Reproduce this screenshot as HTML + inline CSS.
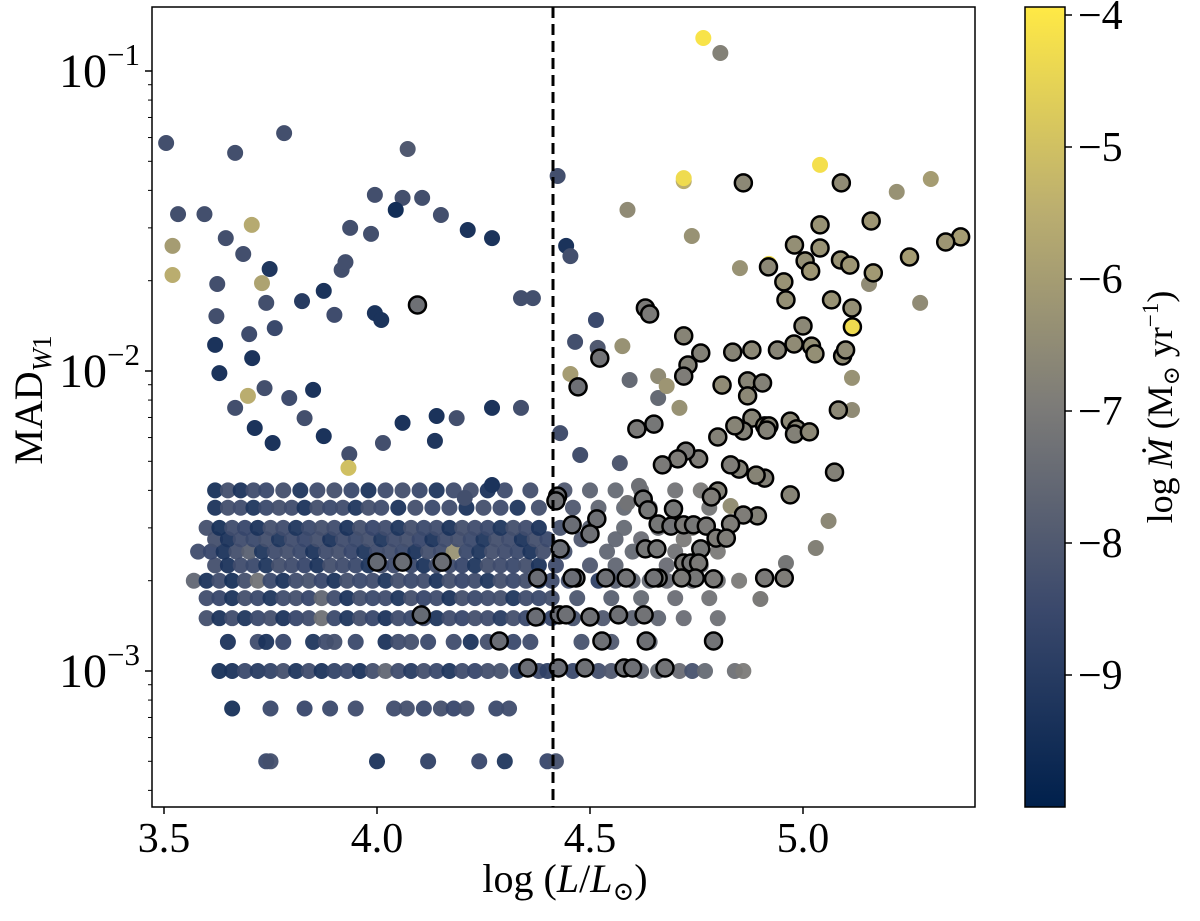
<!DOCTYPE html>
<html><head><meta charset="utf-8">
<style>
html,body{margin:0;padding:0;background:#fff;}
svg{display:block;}
text{font-family:"Liberation Serif","DejaVu Serif",serif;fill:#000;}
</style></head>
<body>
<svg id="chart" width="1200" height="921" viewBox="0 0 1200 921" xmlns="http://www.w3.org/2000/svg">
<g id="points"></g>
<g id="rings"></g>
<line x1="553" y1="7" x2="553" y2="807" stroke="#000" stroke-width="3" stroke-dasharray="11,6"/>
<rect x="152" y="7" width="823" height="800" fill="none" stroke="#000" stroke-width="1.5"/>
<g id="xaxis"></g>
<g id="yaxis"></g>
<text x="565" y="892" font-size="40" text-anchor="middle">log (<tspan font-style="italic">L</tspan>/<tspan font-style="italic">L</tspan><tspan font-size="26" dy="8">⊙</tspan><tspan dy="-8">)</tspan></text>
<text transform="translate(42,400) rotate(-90)" font-size="40" text-anchor="middle">MAD<tspan font-size="27" font-style="italic" dy="9">W</tspan><tspan font-size="27" dy="0">1</tspan></text>
<defs><linearGradient id="cv" x1="0" y1="1" x2="0" y2="0">
<stop offset="0" stop-color="#00204c"/><stop offset="0.25" stop-color="#3b496c"/><stop offset="0.5" stop-color="#7c7b78"/><stop offset="0.75" stop-color="#bcaf6f"/><stop offset="1" stop-color="#ffe945"/>
</linearGradient></defs>
<rect x="1025" y="7" width="40" height="800" fill="url(#cv)" stroke="#000" stroke-width="1.5"/>
<g id="cbar"></g>
<text transform="translate(1172,407) rotate(-90)" font-size="36" text-anchor="middle">log <tspan font-style="italic">Ṁ</tspan> (M<tspan font-size="23" dy="7">⊙</tspan><tspan dy="-7"> yr</tspan><tspan font-size="23" dy="-14">−1</tspan><tspan dy="14">)</tspan></text>
</svg>
<script>
const xTicks=[3.5,4.0,4.5,5.0];
const xTickLabels=["3.5","4.0","4.5","5.0"];
const yTickExps=[-1,-2,-3];
const cbTicks=[-4,-5,-6,-7,-8,-9];
const cbTickLabels=["−4","−5","−6","−7","−8","−9"];
const rowLevels=[0.0005,0.00075,0.001,0.00125,0.0015,0.00175,0.002,0.00225,0.0025,0.00275,0.003,0.0035,0.004];
const rowLum=[
[3.74,3.75,4.00,4.12,4.24,4.30,4.40,4.42],
[3.66,3.75,3.83,3.89,3.95,4.04,4.07,4.11,4.15,4.18,4.21,4.28,4.31],
[3.63,3.66,3.69,3.72,3.75,3.78,3.81,3.84,3.87,3.90,3.93,3.96,3.99,4.02,4.05,4.08,4.11,4.14,4.17,4.20,4.23,4.26,4.29,4.33,4.38,4.40,4.46,4.52,4.55,4.62,4.66,4.71,4.74,4.77,4.84,4.86],
[3.65,3.72,3.74,3.78,3.85,3.88,3.90,3.95,4.02,4.05,4.08,4.12,4.18,4.22,4.26,4.32,4.36,4.48,4.55,4.64],
[3.60,3.63,3.66,3.69,3.72,3.75,3.78,3.81,3.84,3.87,3.90,3.93,3.96,3.99,4.02,4.05,4.08,4.11,4.14,4.17,4.20,4.23,4.26,4.29,4.32,4.35,4.38,4.41,4.46,4.53,4.60,4.66,4.72,4.80],
[3.60,3.63,3.66,3.69,3.72,3.75,3.78,3.81,3.84,3.87,3.90,3.93,3.96,3.99,4.02,4.05,4.08,4.11,4.14,4.17,4.20,4.23,4.26,4.29,4.32,4.35,4.38,4.41,4.47,4.55,4.62,4.70,4.78],
[3.57,3.60,3.63,3.66,3.69,3.72,3.75,3.78,3.81,3.84,3.87,3.90,3.93,3.96,3.99,4.02,4.05,4.08,4.11,4.14,4.17,4.20,4.23,4.26,4.29,4.32,4.35,4.38,4.41,4.45,4.52,4.56,4.60,4.64,4.68,4.74,4.80,4.85],
[3.62,3.65,3.68,3.71,3.74,3.77,3.80,3.83,3.86,3.89,3.92,3.95,3.98,4.01,4.04,4.08,4.11,4.14,4.17,4.20,4.23,4.26,4.29,4.32,4.35,4.38,4.42,4.50,4.56,4.68,4.76],
[3.58,3.61,3.64,3.67,3.70,3.73,3.76,3.79,3.82,3.85,3.88,3.91,3.94,3.97,4.00,4.03,4.06,4.09,4.12,4.15,4.18,4.21,4.24,4.27,4.30,4.33,4.36,4.39,4.44,4.54,4.60,4.70,4.80],
[3.62,3.65,3.68,3.71,3.74,3.77,3.80,3.83,3.86,3.89,3.92,3.95,3.98,4.01,4.04,4.07,4.10,4.13,4.16,4.19,4.22,4.25,4.28,4.31,4.34,4.37,4.40,4.48,4.56,4.62,4.72],
[3.60,3.63,3.66,3.69,3.72,3.75,3.78,3.81,3.84,3.87,3.90,3.93,3.96,3.99,4.02,4.05,4.08,4.11,4.14,4.17,4.20,4.23,4.26,4.29,4.32,4.35,4.38,4.43,4.50,4.58,4.66,4.74],
[3.62,3.65,3.68,3.71,3.74,3.77,3.80,3.83,3.86,3.89,3.92,3.95,3.98,4.01,4.05,4.09,4.13,4.17,4.21,4.25,4.29,4.33,4.38,4.46,4.52,4.58,4.64,4.70,4.78],
[3.62,3.65,3.68,3.71,3.74,3.78,3.82,3.86,3.90,3.94,3.98,4.02,4.06,4.10,4.14,4.18,4.22,4.26,4.30,4.36,4.44,4.50,4.56,4.62,4.70,4.76]
];
const rowMdot=[
[-8.5,-8.3,-9.3,-8.8,-8.6,-9.2,-8.6,-8.3],
[-9.4,-8.5,-8.6,-8.5,-8.4,-8.4,-8.3,-8.5,-8.3,-8.6,-8.3,-8.5,-8.4],
[-9.4,-9.3,-8.5,-9.0,-8.7,-8.3,-9.2,-8.4,-9.3,-8.7,-8.5,-9.3,-8.3,-7.6,-8.4,-9.0,-8.3,-8.5,-9.2,-8.4,-8.6,-8.3,-8.2,-9.0,-8.4,-8.8,-8.5,-8.3,-8.0,-7.6,-7.5,-7.4,-8.2,-7.5,-7.3,-7.0],
[-9.3,-8.4,-9.3,-8.6,-9.2,-8.4,-8.3,-8.5,-9.3,-8.4,-8.3,-8.5,-8.4,-9.3,-8.3,-8.5,-8.4,-8.2,-8.0,-7.6],
[-8.3,-9.3,-8.4,-9.2,-8.5,-8.3,-9.3,-8.6,-8.4,-7.3,-8.5,-9.2,-8.3,-8.6,-9.3,-8.4,-8.5,-8.3,-9.2,-8.4,-8.6,-8.3,-8.4,-9.0,-8.3,-8.5,-8.4,-8.6,-8.2,-8.0,-7.7,-7.6,-7.4,-7.3],
[-8.4,-8.6,-9.3,-8.3,-8.5,-9.2,-8.4,-8.3,-8.6,-7.6,-8.4,-9.3,-8.3,-8.5,-8.4,-9.2,-8.3,-8.6,-8.4,-9.3,-8.3,-8.5,-8.4,-8.3,-9.2,-8.4,-8.5,-8.3,-8.1,-7.8,-7.5,-7.4,-7.2],
[-7.6,-9.3,-8.4,-9.4,-8.3,-7.2,-8.5,-9.3,-8.4,-8.2,-8.6,-9.3,-8.3,-8.5,-8.4,-9.2,-8.3,-8.5,-8.4,-9.3,-8.3,-8.6,-8.4,-9.2,-8.3,-8.5,-8.3,-9.3,-8.4,-8.2,-8.8,-7.8,-7.6,-7.5,-7.4,-7.3,-7.2,-7.0],
[-8.3,-9.3,-8.4,-8.5,-9.2,-8.3,-8.4,-8.6,-9.3,-8.3,-8.4,-8.5,-9.2,-8.3,-8.4,-8.5,-9.3,-8.3,-8.4,-8.6,-9.2,-8.3,-8.4,-8.5,-8.3,-9.3,-8.4,-8.0,-7.6,-7.4,-7.2],
[-8.4,-8.6,-9.3,-8.3,-7.8,-9.2,-8.4,-8.3,-8.5,-9.3,-8.4,-8.3,-8.6,-9.2,-8.4,-8.3,-8.5,-9.3,-8.3,-8.4,-6.3,-8.5,-9.2,-8.3,-8.4,-8.5,-9.3,-8.3,-8.2,-7.6,-7.5,-7.2,-7.0],
[-8.3,-9.3,-8.4,-8.5,-8.3,-9.2,-8.4,-8.6,-8.3,-9.3,-8.4,-8.5,-8.3,-9.2,-8.4,-8.3,-8.6,-9.3,-8.4,-8.3,-8.5,-9.2,-8.3,-8.4,-9.3,-8.3,-8.5,-8.0,-7.6,-7.4,-7.0],
[-8.3,-9.4,-8.4,-8.6,-9.3,-8.3,-8.4,-9.2,-8.5,-8.3,-8.4,-9.3,-8.3,-8.6,-8.4,-9.2,-8.3,-8.5,-8.4,-9.3,-8.3,-8.4,-8.5,-9.2,-8.3,-8.4,-9.3,-8.2,-7.8,-7.5,-7.3,-7.0],
[-9.3,-8.3,-8.4,-9.2,-8.5,-8.3,-8.4,-9.3,-8.3,-8.5,-8.4,-9.2,-8.3,-8.4,-9.3,-8.3,-8.5,-8.4,-9.3,-8.3,-8.4,-9.2,-8.3,-8.0,-7.6,-7.5,-7.4,-7.3,-7.1],
[-9.4,-8.3,-9.3,-8.4,-8.5,-8.3,-9.2,-8.4,-8.3,-8.5,-9.3,-8.4,-8.3,-8.5,-9.2,-8.4,-8.3,-9.3,-8.4,-8.3,-8.0,-7.7,-7.5,-7.3,-7.2,-7.0]
];
const scatLum=[3.505,3.52,3.52,3.533,3.595,3.667,3.782,3.706,3.645,3.686,3.73,3.748,3.625,3.623,3.62,3.63,3.70,3.707,3.74,3.76,3.824,3.875,3.90,3.917,3.926,3.937,3.986,3.995,4.072,4.06,4.106,3.995,4.01,4.044,4.15,4.213,4.27,4.338,4.366,4.424,4.444,4.454,4.588,4.72,4.739,4.72,4.766,4.806,5.04,4.92,4.852,5.22,5.30,5.275,5.115,5.115,5.155,4.518,4.576,4.465,4.514,4.593,4.71,4.66,4.588,4.477,4.338,4.27,4.187,4.14,4.136,4.06,4.014,3.935,3.875,3.83,3.755,3.713,3.667,3.736,3.794,3.85,3.933,3.697,4.454,4.66,4.43,4.57,4.27,4.206,4.615,5.03,4.90,4.96,5.06,4.83,4.68];
const scatMad=[-1.24,-1.583,-1.68,-1.477,-1.477,-1.273,-1.207,-1.513,-1.557,-1.61,-1.707,-1.66,-1.71,-1.817,-1.913,-2.007,-1.877,-1.957,-1.773,-1.857,-1.767,-1.733,-1.813,-1.663,-1.637,-1.523,-1.543,-1.413,-1.26,-1.423,-1.423,-1.807,-1.83,-1.463,-1.48,-1.53,-1.557,-1.757,-1.757,-1.35,-1.583,-1.617,-1.463,-1.367,-1.55,-1.357,-0.89,-0.94,-1.313,-1.643,-1.657,-1.403,-1.36,-1.773,-2.023,-2.13,-1.71,-1.923,-1.917,-1.903,-1.83,-2.03,-2.123,-2.09,-2.44,-2.28,-2.123,-2.123,-2.157,-2.15,-2.233,-2.173,-2.24,-2.277,-2.217,-2.157,-2.24,-2.19,-2.123,-2.057,-2.09,-2.063,-2.323,-2.083,-2.01,-2.017,-2.207,-2.307,-2.38,-2.423,-2.383,-2.59,-2.76,-2.64,-2.50,-2.45,-2.05];
const scatMdot=[-8.3,-6.0,-5.5,-8.3,-8.3,-8.3,-8.3,-5.6,-8.3,-8.3,-5.8,-9.2,-8.3,-8.3,-9.3,-9.3,-8.4,-9.3,-8.3,-8.5,-9.0,-9.3,-8.4,-8.3,-8.3,-8.3,-8.3,-8.3,-8.0,-8.3,-8.3,-9.3,-9.3,-9.5,-8.3,-9.3,-9.3,-8.3,-8.3,-8.3,-9.3,-8.3,-6.5,-5.5,-6.3,-4.3,-4.1,-6.8,-4.2,-4.3,-6.3,-6.3,-6.0,-6.5,-6.3,-6.5,-6.5,-8.0,-6.3,-8.3,-8.5,-7.5,-6.3,-7.5,-7.2,-8.3,-8.3,-9.3,-8.3,-9.3,-9.2,-9.3,-8.3,-8.3,-9.3,-8.3,-9.3,-9.3,-8.3,-8.3,-8.4,-9.3,-5.0,-5.5,-6.0,-6.5,-8.3,-8.0,-9.3,-8.3,-7.3,-6.8,-7.0,-7.1,-6.6,-6.4,-6.2];
const ringLum=[5.37,5.335,5.25,5.16,5.04,4.98,4.86,5.09,5.04,5.088,5.11,5.165,5.005,4.955,5.018,5.067,5.116,5.115,4.96,4.979,5.093,5.02,5.10,5.0,5.028,4.94,4.88,4.835,4.76,4.72,4.73,4.72,4.81,4.87,4.905,4.87,4.88,4.86,4.84,4.80,4.91,4.92,4.915,4.97,4.985,4.98,5.015,5.083,5.074,4.97,4.91,4.89,4.85,4.83,4.80,4.785,4.893,4.86,4.83,4.755,4.725,4.706,4.67,4.65,4.61,4.63,4.64,4.523,4.472,4.424,4.42,4.458,4.516,4.50,4.43,4.625,4.636,4.66,4.69,4.696,4.72,4.743,4.773,4.76,4.796,4.82,4.63,4.657,4.72,4.737,4.755,4.79,4.747,4.715,4.66,4.65,4.585,4.537,4.467,4.458,4.377,4.956,4.91,4.0,4.06,4.153,4.095,4.373,4.428,4.444,4.50,4.567,4.627,4.104,4.287,4.354,4.426,4.488,4.58,4.60,4.676,4.632,4.79,4.528,4.919];
const ringMad=[-1.553,-1.57,-1.62,-1.50,-1.59,-1.58,-1.373,-1.373,-1.513,-1.63,-1.647,-1.673,-1.633,-1.703,-1.667,-1.763,-1.853,-1.79,-1.763,-1.91,-1.95,-1.917,-1.93,-1.85,-1.943,-1.93,-1.93,-1.937,-1.94,-1.883,-1.98,-2.017,-2.047,-2.033,-2.04,-2.083,-2.157,-2.20,-2.183,-2.22,-2.183,-2.183,-2.197,-2.167,-2.193,-2.21,-2.203,-2.13,-2.337,-2.413,-2.357,-2.347,-2.327,-2.313,-2.40,-2.42,-2.483,-2.48,-2.51,-2.293,-2.267,-2.293,-2.313,-2.177,-2.193,-1.79,-1.81,-1.957,-2.053,-2.417,-2.433,-2.513,-2.493,-2.543,-2.593,-2.427,-2.463,-2.51,-2.517,-2.46,-2.513,-2.513,-2.517,-2.593,-2.557,-2.557,-2.593,-2.593,-2.64,-2.64,-2.64,-2.693,-2.69,-2.69,-2.69,-2.69,-2.69,-2.69,-2.69,-2.69,-2.69,-2.69,-2.69,-2.637,-2.637,-2.637,-1.78,-2.82,-2.813,-2.813,-2.82,-2.813,-2.813,-2.813,-2.90,-2.99,-2.99,-2.99,-2.99,-2.99,-2.99,-2.90,-2.90,-2.90,-1.653];
const ringMdot=[-6.0,-6.2,-6.0,-6.2,-6.3,-6.4,-6.6,-6.5,-6.3,-6.3,-6.2,-6.1,-6.4,-6.3,-6.2,-6.3,-4.3,-6.4,-6.4,-6.5,-6.5,-6.4,-6.5,-6.6,-6.4,-6.7,-6.6,-6.7,-6.8,-6.7,-6.8,-6.9,-6.5,-6.7,-6.8,-6.6,-6.7,-6.8,-6.7,-6.8,-6.6,-6.7,-6.8,-6.6,-6.7,-6.8,-6.6,-6.6,-6.8,-6.7,-6.8,-6.7,-6.8,-6.9,-6.8,-6.9,-6.8,-6.9,-6.9,-6.9,-7.0,-6.9,-7.0,-7.1,-7.0,-7.0,-7.0,-7.2,-7.3,-7.3,-7.2,-7.4,-7.3,-7.3,-7.4,-7.1,-7.1,-7.1,-7.2,-7.1,-7.0,-7.1,-7.0,-7.1,-6.9,-6.9,-7.1,-7.1,-7.0,-7.1,-7.0,-7.0,-7.1,-7.0,-7.1,-7.2,-7.2,-7.3,-7.3,-7.4,-7.4,-6.9,-7.0,-7.5,-7.4,-7.4,-7.3,-7.4,-7.4,-7.3,-7.3,-7.3,-7.2,-7.5,-7.4,-7.4,-7.4,-7.3,-7.3,-7.3,-7.2,-7.3,-7.2,-7.3,-6.6];

const NS='http://www.w3.org/2000/svg';
const X0=164, XS=426, Y3=671, YS=300;
function xPix(l){return X0+XS*(l-3.5);}
function yPixLog(lg){return Y3-YS*(lg+3);}
function yPix(v){return yPixLog(Math.log10(v));}
const CB_MIN=-10, CB_MAX=-3.94;
function cbY(v){return 15+132*(-4-v);}
const stops=[[0,[0,32,76]],[0.25,[59,73,108]],[0.5,[124,123,120]],[0.75,[188,175,111]],[1,[255,233,69]]];
function cmap(m){let t=(m-CB_MIN)/(CB_MAX-CB_MIN);t=Math.max(0,Math.min(1,t));
 for(let i=1;i<stops.length;i++){if(t<=stops[i][0]){const a=stops[i-1],b=stops[i];const f=(t-a[0])/(b[0]-a[0]);
 return 'rgb('+a[1].map((c,k)=>Math.round(c+(b[1][k]-c)*f)).join(',')+')';}}return 'rgb(255,233,69)';}
function el(tag,attrs,parent){const e=document.createElementNS(NS,tag);for(const k in attrs)e.setAttribute(k,attrs[k]);parent.appendChild(e);return e;}

const gP=document.getElementById('points');
for(let r=0;r<rowLevels.length;r++){
 for(let i=0;i<rowLum[r].length;i++){
  const m=rowMdot[r][i]??-8.5;
  const c=el('circle',{cx:xPix(rowLum[r][i]),cy:yPix(rowLevels[r]),r:8,fill:cmap(m),'fill-opacity':0.95},gP);
  
  
 }
}
for(let i=0;i<scatLum.length;i++){
 const c=el('circle',{cx:xPix(scatLum[i]),cy:yPixLog(scatMad[i]),r:8,fill:cmap(scatMdot[i]??-8.3)},gP);
 
 
}
const gR=document.getElementById('rings');
for(let i=0;i<ringLum.length;i++){
 const c=el('circle',{cx:xPix(ringLum[i]),cy:yPixLog(ringMad[i]),r:8.5,fill:cmap(ringMdot[i]??-7),stroke:'#000','stroke-width':2.5},gR);
 
 
}
const gX=document.getElementById('xaxis');
xTicks.forEach((v,i)=>{const x=xPix(v);
 const t=el('line',{x1:x,y1:807,x2:x,y2:814,stroke:'#000','stroke-width':1.5},gX);
 
 
 const l=el('text',{x:x,y:852,'font-size':42,'text-anchor':'middle'},gX);l.textContent=xTickLabels[i];
 
 
});
const gY=document.getElementById('yaxis');
yTickExps.forEach(e=>{const y=yPixLog(e);
 const t=el('line',{x1:145,y1:y,x2:152,y2:y,stroke:'#000','stroke-width':1.5},gY);
 
 
 const l=el('text',{x:140,y:y+16,'font-size':48,'text-anchor':'end'},gY);
 l.innerHTML='10<tspan font-size="31" dy="-22">−'+(-e)+'</tspan>';
 
 
});
for(let d=-4;d<=-1;d++){for(let k=2;k<=9;k++){const lg=d+Math.log10(k);const y=yPixLog(lg);if(y<7||y>807)continue;
 const t=el('line',{x1:148,y1:y,x2:152,y2:y,stroke:'#000','stroke-width':1},gY);
 
 }}
const gC=document.getElementById('cbar');
cbTicks.forEach((v,i)=>{const y=cbY(v);
 const t=el('line',{x1:1065,y1:y,x2:1072,y2:y,stroke:'#000','stroke-width':1.5},gC);
 
 
 const l=el('text',{x:1078,y:y+14,'font-size':42},gC);l.textContent=cbTickLabels[i];
 
 
});
</script>
</body></html>
